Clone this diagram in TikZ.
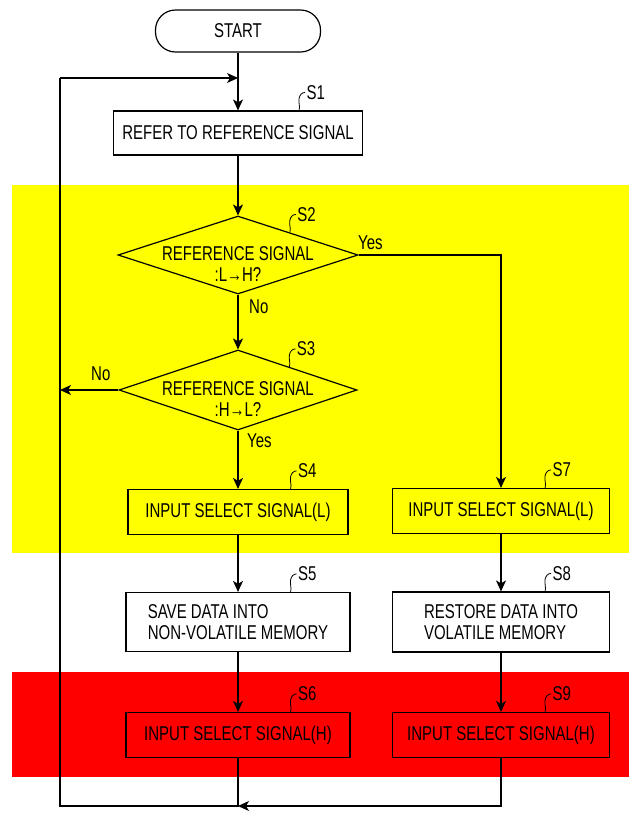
\documentclass[tikz,border=0pt]{standalone}
\usepackage{fontspec}
\setmainfont{Liberation Sans}[FakeStretch=0.75]
\usepackage{tikz}
\usetikzlibrary{arrows.meta, positioning, shapes.geometric, calc}
\definecolor{bandyellow}{RGB}{255, 255, 0}
\definecolor{bandred}{RGB}{255, 0, 0}
\newcommand{\flowfont}{\fontsize{20}{20.5}\selectfont}
% step number with its little hook
\newcommand{\stepmark}[3]{%
  \draw[squiggle] #1 to[out=75, in=-100] ++(0,-12) to[out=80, in=180] ++(6,-6)
    node[anchor=west, inner sep=1pt, font=\flowfont] (#2) {#3};}

\begin{document}
\begin{tikzpicture}[
    x=1pt, y=-1pt,
    stepbox/.style={draw, line width=1.2pt, minimum width=220pt, minimum height=45pt,
                    inner sep=2pt, align=center, font=\flowfont},
    startbox/.style={draw, line width=1.2pt, rounded corners=20pt, minimum width=165pt,
                     minimum height=42pt, font=\flowfont},
    decision/.style={draw, diamond, line width=1.2pt, inner sep=0pt,
                     minimum width=240pt, minimum height=78pt},
    tag/.style={font=\flowfont, inner sep=0pt},
    line/.style={line width=1.1pt},
    arr/.style={line, -{Stealth[length=11pt, width=10pt, inset=3pt]}},
    squiggle/.style={line width=0.8pt}
]
\fill[white] (0,0) rectangle (629,815);
\useasboundingbox (0,0) rectangle (629,815);
% colour bands
\fill[bandyellow] (12,185) rectangle (629,553);
\fill[bandred] (12,672) rectangle (629,777);

% main column
\node[startbox] (start) at (238,31) {START};
\node[stepbox, minimum width=249pt, minimum height=44pt] (s1) at (238,133) {REFER TO REFERENCE SIGNAL};
\node[decision] (s2) at (238,255) {};
\node[tag, align=center] (s2text) at ([yshift=-9pt]s2.center) {REFERENCE SIGNAL\\:L→H?};
\node[decision, minimum width=238pt, minimum height=80pt] (s3) at (238,390) {};
\node[tag, align=center] (s3text) at ([yshift=-9pt]s3.center) {REFERENCE SIGNAL\\:H→L?};
\node[stepbox] (s4) at (238,512) {INPUT SELECT SIGNAL(L)};
\node[stepbox, minimum width=224pt, minimum height=59pt, align=left] (s5) at (238,622)
    {SAVE DATA INTO\\NON-VOLATILE MEMORY};
\node[stepbox, minimum width=224pt] (s6) at (238,735) {INPUT SELECT SIGNAL(H)};
% right column
\node[stepbox, minimum width=217pt] (s7) at (501,511) {INPUT SELECT SIGNAL(L)};
\node[stepbox, minimum width=217pt, minimum height=60pt, align=left] (s8) at (501,622)
    {RESTORE DATA INTO\\VOLATILE MEMORY};
\node[stepbox, minimum width=217pt] (s9) at (501,735) {INPUT SELECT SIGNAL(H)};

% return loop
\coordinate (topjoin) at (238,78);
\coordinate (topleft) at (60,78);
\coordinate (botleft) at (60,806);
\coordinate (botjoin) at (238,806);

% arrows
\draw[arr] (start.south) -- (s1.north);
\draw[arr] (s1.south) -- (s2.north);
\draw[arr] (s2.south) -- (s3.north);
\draw[arr] (s3.south) -- (s4.north);
\draw[arr] (s4.south) -- (s5.north);
\draw[arr] (s5.south) -- (s6.north);
\draw[arr] (s2.east) -| (s7.north);
\draw[arr] (s7.south) -- (s8.north);
\draw[arr] (s8.south) -- (s9.north);
\draw[arr] (s3.west) -- (s3.west -| topleft);
\draw[line] (s6.south) -- (botjoin) -- (botleft) -- (topleft);
\draw[arr] (topleft) -- (topjoin);
\draw[arr] (s9.south) |- (botjoin);

% branch labels
\node[tag, anchor=base west] (yes2) at (358,249) {Yes};
\node[tag, anchor=base west] (no2) at (249,313) {No};
\node[tag, anchor=base west] (no3) at (91,380) {No};
\node[tag, anchor=base west] (yes3) at (247,447) {Yes};

% step numbers
\stepmark{([xshift=-64pt]s1.north east)}{l1}{S1}
\stepmark{($(s2.north)!0.43!(s2.east)$)}{l2}{S2}
\stepmark{($(s3.north)!0.43!(s3.east)$)}{l3}{S3}
\stepmark{([xshift=-58pt]s4.north east)}{l4}{S4}
\stepmark{([xshift=-60pt]s5.north east)}{l5}{S5}
\stepmark{([xshift=-60pt]s6.north east)}{l6}{S6}
\stepmark{([xshift=-65pt]s7.north east)}{l7}{S7}
\stepmark{([xshift=-65pt]s8.north east)}{l8}{S8}
\stepmark{([xshift=-65pt]s9.north east)}{l9}{S9}
\end{tikzpicture}
\end{document}
